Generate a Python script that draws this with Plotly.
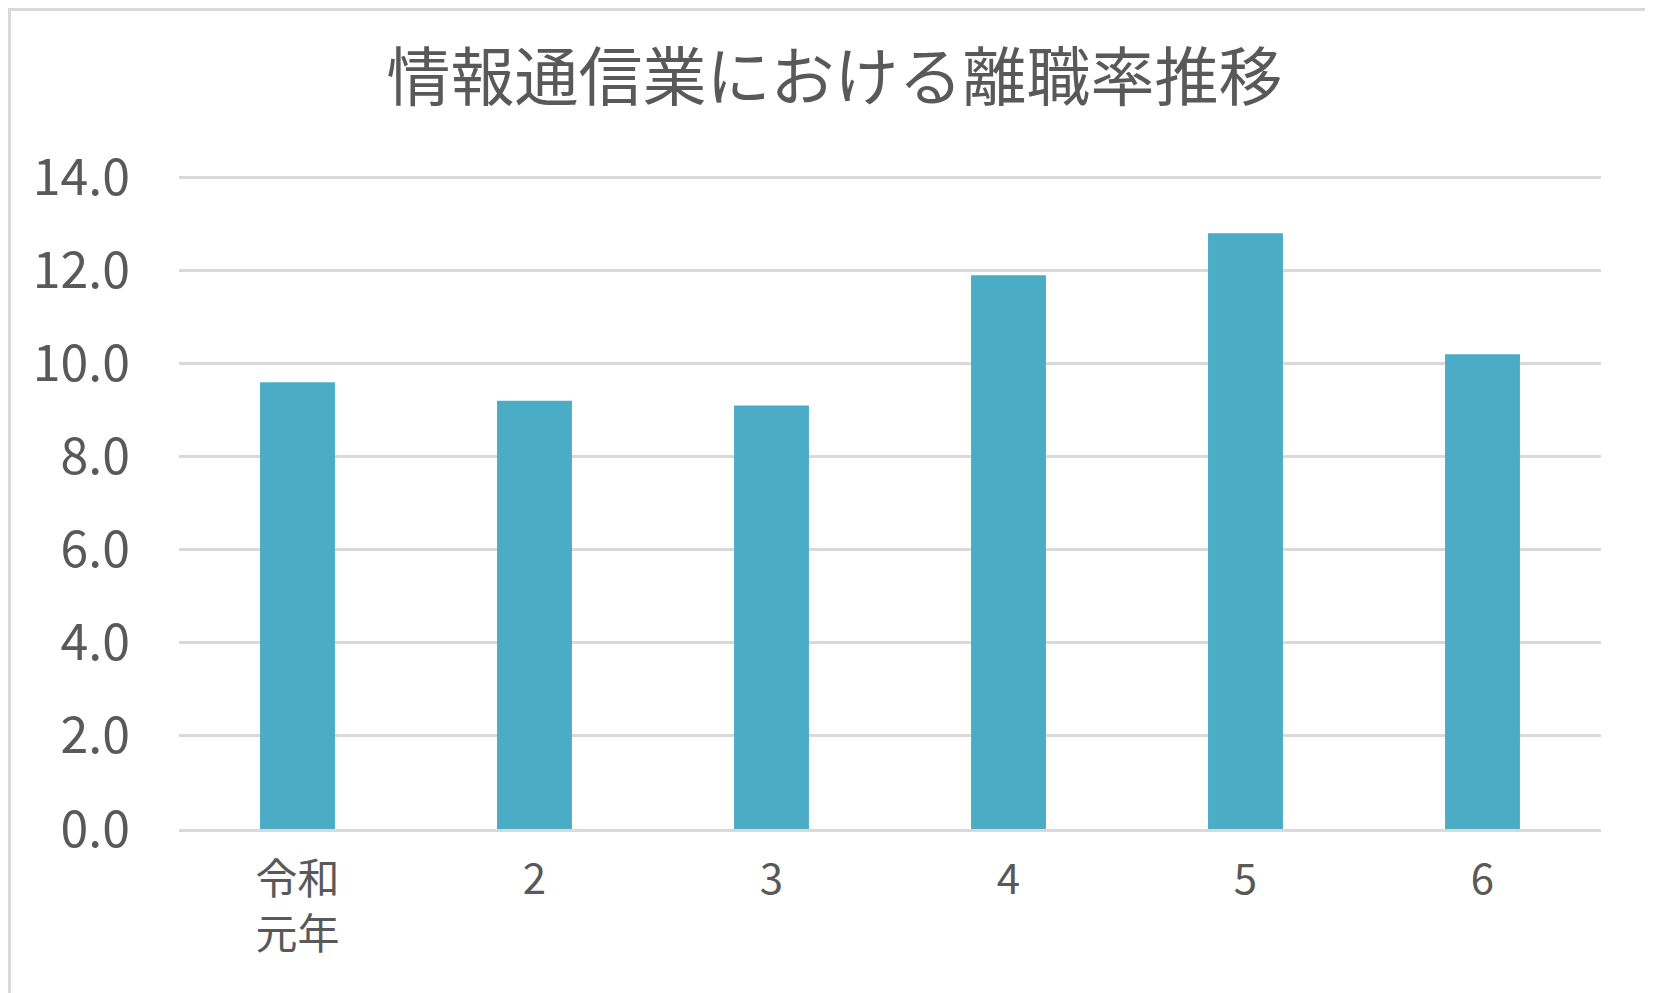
import plotly.graph_objects as go

# 情報通信業 離職率 (%)
years = ["令和<br>元年", "2", "3", "4", "5", "6"]
rates = [9.6, 9.2, 9.1, 11.9, 12.8, 10.2]
y_ticks = [0, 2, 4, 6, 8, 10, 12, 14]

W, H = 1653, 993
L, R, T, B = 171, 60, 168, 172
font = "Noto Sans CJK JP"
grey = "#595959"

fig = go.Figure()
fig.add_trace(go.Bar(x=years, y=rates, marker_color="#4BACC6", marker_line_width=0))

pw, ph = W - L - R, H - T - B
fig.add_shape(type="rect", xref="paper", yref="paper",
              x0=(1.5 - L) / pw, x1=(W - 1.5 - L) / pw,
              y0=-(B - 1.5) / ph, y1=1 + (T - 1.5) / ph,
              line=dict(color="#D9D9D9", width=3), layer="below")

fig.update_layout(
    width=W, height=H,
    margin=dict(l=L, r=R, t=T, b=B),
    paper_bgcolor="white", plot_bgcolor="white",
    bargap=0.684,
    showlegend=False,
    font=dict(family=font, color=grey),
    title=dict(text="情報通信業における離職率推移", x=0.5, xanchor="center",
               y=1 - 70 / H, yanchor="middle", yref="container",
               font=dict(size=64, color=grey, family=font)),
)
fig.update_yaxes(range=[0, 14.03], tickvals=y_ticks, tickformat=".1f",
                 showgrid=True, gridcolor="#D9D9D9", gridwidth=2.5,
                 zeroline=False, showline=False,
                 tickfont=dict(size=50, color=grey), ticklabelstandoff=48)
fig.update_xaxes(showgrid=False, showline=True, linecolor="#D9D9D9", linewidth=3,
                 tickfont=dict(size=42, color=grey), ticklabelstandoff=12)

fig.write_html("out.html")
